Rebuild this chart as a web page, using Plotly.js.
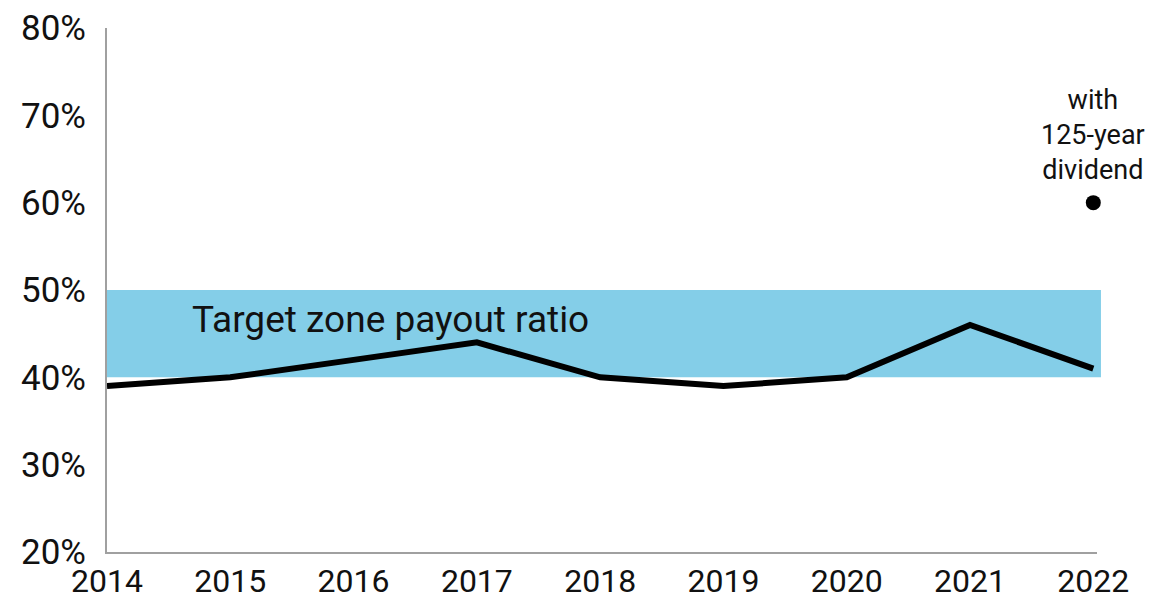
<!DOCTYPE html>
<html>
<head>
<meta charset="utf-8">
<script src="https://cdn.plot.ly/plotly-3.0.1.min.js"></script>
<style>html,body{margin:0;padding:0;background:#fff;}#chart{width:1150px;height:603px;}</style>
</head>
<body>
<div id="chart"></div>
<script>
const years = [2014, 2015, 2016, 2017, 2018, 2019, 2020, 2021, 2022];
const payoutRatio = [39, 40, 42, 44, 40, 39, 40, 46, 41];
const specialYear = [2022];
const specialRatio = [60];
const targetZone = [40, 50];
const yTicks = [20, 30, 40, 50, 60, 70, 80];
const yTickText = ['20%', '30%', '40%', '50%', '60%', '70%', '80%'];
const bandLabel = 'Target zone payout ratio';
const dotLabel = 'with<br>125-year<br>dividend';

const fontFam = 'Roboto, "Open Sans", sans-serif';

const traces = [
  {
    x: years, y: payoutRatio, type: 'scatter', mode: 'lines',
    line: {color: '#000', width: 6}, hoverinfo: 'x+y', cliponaxis: false
  },
  {
    x: specialYear, y: specialRatio, type: 'scatter', mode: 'markers',
    marker: {color: '#000', size: 15}, cliponaxis: false
  }
];

const layout = {
  width: 1150, height: 603,
  margin: {l: 107, r: 53, t: 28, b: 51},
  paper_bgcolor: '#fff', plot_bgcolor: '#fff',
  showlegend: false,
  font: {family: fontFam, color: '#111'},
  xaxis: {
    range: [2014, 2022.03],
    tickvals: years, ticktext: years.map(String),
    showgrid: false, zeroline: false,
    showline: true, linecolor: '#a0a0a0', linewidth: 2,
    ticks: '', tickfont: {size: 32, family: fontFam, color: '#111'},
    ticklabelstandoff: 0
  },
  yaxis: {
    range: [20, 80],
    tickvals: yTicks, ticktext: yTickText,
    showgrid: false, zeroline: false,
    showline: true, linecolor: '#a0a0a0', linewidth: 2,
    ticks: '', tickfont: {size: 35, family: fontFam, color: '#111'},
    ticklabelstandoff: 12
  },
  shapes: [
    {
      type: 'rect', xref: 'paper', yref: 'y',
      x0: 0, x1: 1.004, y0: targetZone[0], y1: targetZone[1],
      fillcolor: '#84CEE8', line: {width: 0}, layer: 'below'
    }
  ],
  annotations: [
    {
      x: 2014.67, y: 46.6, xref: 'x', yref: 'y', text: bandLabel,
      showarrow: false, xanchor: 'left', yanchor: 'middle',
      font: {size: 37, family: fontFam, color: '#111'}
    },
    {
      x: 2022, y: 61.7, xref: 'x', yref: 'y', text: dotLabel,
      showarrow: false, xanchor: 'center', yanchor: 'bottom', align: 'center',
      font: {size: 27, family: fontFam, color: '#111'}
    }
  ]
};

Plotly.newPlot('chart', traces, layout, {displayModeBar: false, staticPlot: true});
</script>
</body>
</html>
